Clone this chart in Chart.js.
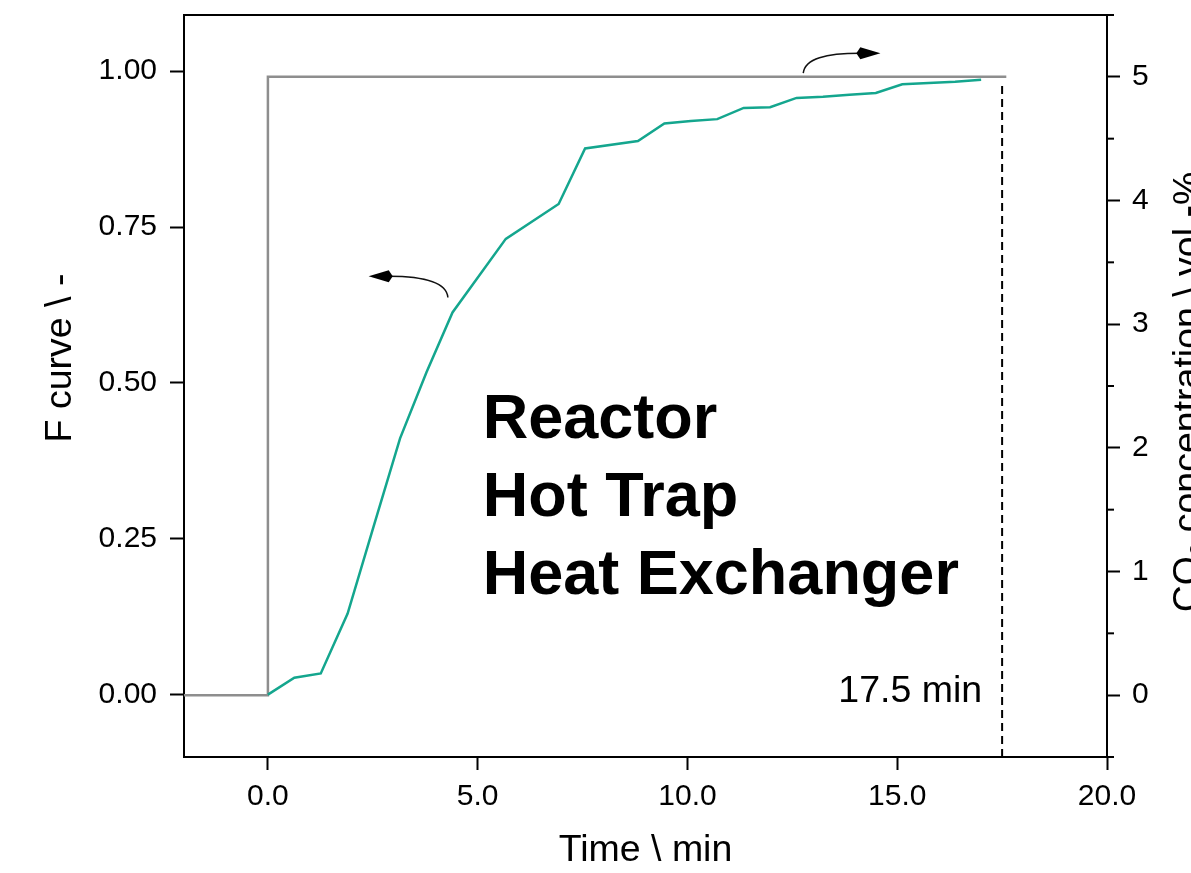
<!DOCTYPE html>
<html>
<head>
<meta charset="utf-8">
<script src="https://cdn.jsdelivr.net/npm/chart.js@4.4.1/dist/chart.umd.min.js"></script>
<style>
  html, body { margin: 0; padding: 0; background: #fff; }
  #wrap { width: 1191px; height: 873px; position: relative; }
</style>
</head>
<body>
<div id="wrap"><canvas id="fCurveChart"></canvas></div>
<script>
// F curve (left axis) against time
const timeMin = [0, 0.63, 1.26, 1.9, 2.52, 3.15, 3.78, 4.4, 5.67, 6.93, 7.56, 8.82, 9.45,
                 10.08, 10.71, 11.34, 11.97, 12.6, 13.23, 13.86, 14.49, 15.12, 15.75, 16.38, 17.0];
const fCurve = [0, 0.027, 0.034, 0.13, 0.27, 0.411, 0.517, 0.613, 0.731, 0.787, 0.876, 0.888, 0.916,
                0.920, 0.923, 0.941, 0.942, 0.957, 0.959, 0.962, 0.965, 0.979, 0.981, 0.983, 0.986];

// CO2 step input (right axis)
const coTime = [-2, 0, 0, 17.6];
const coConc = [0, 0, 5, 5];

// residence time marker
const markerTime = 17.5;
const markerLabel = '17.5 min';

// tick labels
const xTicks = [0, 5, 10, 15, 20];
const fTicks = [0, 0.25, 0.5, 0.75, 1.0];
const coTicks = [0, 1, 2, 3, 4, 5];
const coMinorTicks = [-0.5, 0.5, 1.5, 2.5, 3.5, 4.5, 5.5];

const unitLines = ['Reactor', 'Hot Trap', 'Heat Exchanger'];

const FONT = "'Liberation Sans', Arial, sans-serif";

const toPoints = (xs, ys) => xs.map((v, i) => ({ x: v, y: ys[i] }));
const fixTicks = values => scale => { scale.ticks = values.map(v => ({ value: v })); };

// frame, minor ticks, titles, notes and arrows
const decorations = {
    id: 'decorations',
    afterDatasetsDraw(chart) {
        const { ctx, chartArea: a, scales: { x, y, y2 } } = chart;
        ctx.save();
        ctx.strokeStyle = '#000';
        ctx.lineWidth = 2;
        ctx.beginPath();
        ctx.moveTo(a.left - 1, a.top);
        ctx.lineTo(a.right + 1, a.top);
        ctx.stroke();

        coMinorTicks.forEach(v => {
            const py = y2.getPixelForValue(v);
            ctx.beginPath();
            ctx.moveTo(a.right, py);
            ctx.lineTo(a.right + 7, py);
            ctx.stroke();
        });

        ctx.fillStyle = '#000';
        // left title
        ctx.font = `37.5px ${FONT}`;
        ctx.save();
        ctx.translate(71, 358);
        ctx.rotate(-Math.PI / 2);
        ctx.textAlign = 'center';
        ctx.textBaseline = 'alphabetic';
        ctx.fillText('F curve \\ -', 0, 0);
        ctx.restore();

        // right title with subscript
        ctx.save();
        ctx.translate(1199, 392);
        ctx.rotate(-Math.PI / 2);
        ctx.textAlign = 'left';
        ctx.textBaseline = 'alphabetic';
        const head = 'CO', tail = ' concentration \\ vol.-%';
        ctx.font = `37.5px ${FONT}`;
        const wHead = ctx.measureText(head).width;
        const wTail = ctx.measureText(tail).width;
        ctx.font = `24px ${FONT}`;
        const wSub = ctx.measureText('2').width;
        let cx = -(wHead + wSub + wTail) / 2;
        ctx.font = `37.5px ${FONT}`;
        ctx.fillText(head, cx, 0);
        cx += wHead;
        ctx.font = `24px ${FONT}`;
        ctx.fillText('2', cx, 8);
        cx += wSub;
        ctx.font = `37.5px ${FONT}`;
        ctx.fillText(tail, cx, 0);
        ctx.restore();

        // marker note
        ctx.font = `37.5px ${FONT}`;
        ctx.textAlign = 'right';
        ctx.textBaseline = 'alphabetic';
        ctx.fillText(markerLabel, x.getPixelForValue(markerTime) - 20, y.getPixelForValue(0) + 7);

        // unit list
        ctx.font = `bold 63px ${FONT}`;
        ctx.textAlign = 'left';
        const baseF = [0.411, 0.286, 0.162];
        unitLines.forEach((t, i) => {
            ctx.fillText(t, x.getPixelForValue(5.12), y.getPixelForValue(baseF[i]));
        });

        // curved arrows pointing at each series' axis
        const drawArrow = (sx, pts, dir) => {
            const p = pts.map(([vx, vy]) => [x.getPixelForValue(vx), sx.getPixelForValue(vy)]);
            ctx.strokeStyle = '#111';
            ctx.lineWidth = 1.5;
            ctx.beginPath();
            ctx.moveTo(p[0][0], p[0][1]);
            ctx.bezierCurveTo(p[1][0], p[1][1], p[2][0], p[2][1], p[3][0], p[3][1]);
            ctx.stroke();
            const [bx, by] = p[3];
            const [tx, ty] = p[4];
            ctx.fillStyle = '#000';
            ctx.beginPath();
            ctx.moveTo(tx, ty);
            ctx.lineTo(bx, by - 6);
            ctx.lineTo(bx + dir * 4, by);
            ctx.lineTo(bx, by + 6);
            ctx.closePath();
            ctx.fill();
        };
        drawArrow(y, [[4.29, 0.637], [4.26, 0.66], [3.8, 0.671], [2.88, 0.671], [2.4, 0.671]], 1);
        drawArrow(y2, [[12.76, 5.03], [12.8, 5.15], [13.3, 5.19], [14.12, 5.19], [14.6, 5.19]], -1);

        ctx.restore();
    }
};

const axisLine = { color: '#000', width: 2 };
const tickGrid = { drawOnChartArea: false, drawTicks: true, tickLength: 13, tickColor: '#000', tickWidth: 2 };
const noEdgePadding = s => { s.paddingTop = 0; s.paddingBottom = 0; s.paddingLeft = 0; s.paddingRight = 0; };

new Chart(document.getElementById('fCurveChart'), {
    type: 'line',
    data: {
        datasets: [
            {
                label: 'F curve',
                data: toPoints(timeMin, fCurve),
                yAxisID: 'y',
                borderColor: '#14a68e',
                borderWidth: 2.5,
                pointRadius: 0,
                tension: 0
            },
            {
                label: 'CO2',
                data: toPoints(coTime, coConc),
                yAxisID: 'y2',
                borderColor: '#8e8e8e',
                borderWidth: 2.5,
                pointRadius: 0,
                tension: 0
            },
            {
                label: 'marker',
                data: [{ x: markerTime, y: -0.5 }, { x: markerTime, y: 4.95 }],
                yAxisID: 'y2',
                borderColor: '#000',
                borderWidth: 2,
                borderDash: [8, 5],
                pointRadius: 0
            }
        ]
    },
    options: {
        responsive: true,
        maintainAspectRatio: false,
        animation: false,
        layout: { padding: { top: 15, left: 0, right: 0, bottom: 0 } },
        plugins: { legend: { display: false }, tooltip: { enabled: false } },
        scales: {
            x: {
                type: 'linear',
                position: 'bottom',
                min: -2,
                max: 20,
                border: axisLine,
                grid: tickGrid,
                afterBuildTicks: fixTicks(xTicks),
                afterFit: s => { s.height = 116; noEdgePadding(s); },
                title: {
                    display: true,
                    text: 'Time \\ min',
                    color: '#000',
                    font: { family: FONT, size: 37.5 },
                    padding: { top: -4, bottom: 0 }
                },
                ticks: {
                    color: '#000',
                    font: { family: FONT, size: 30 },
                    padding: 9,
                    maxRotation: 0,
                    callback: v => Number(v).toFixed(1)
                }
            },
            y: {
                position: 'left',
                min: -0.1,
                max: 1.09,
                border: axisLine,
                grid: { ...tickGrid, tickLength: 14 },
                afterBuildTicks: fixTicks(fTicks),
                afterFit: s => { s.width = 184; noEdgePadding(s); },
                ticks: {
                    color: '#000',
                    font: { family: FONT, size: 30 },
                    padding: 13,
                    callback: v => Number(v).toFixed(2)
                }
            },
            y2: {
                position: 'right',
                min: -0.5,
                max: 5.5,
                border: axisLine,
                grid: tickGrid,
                afterBuildTicks: fixTicks(coTicks),
                afterFit: s => { s.width = 84; noEdgePadding(s); },
                ticks: {
                    color: '#000',
                    font: { family: FONT, size: 30 },
                    padding: 12,
                    callback: v => String(v)
                }
            }
        }
    },
    plugins: [decorations]
});
</script>
</body>
</html>
